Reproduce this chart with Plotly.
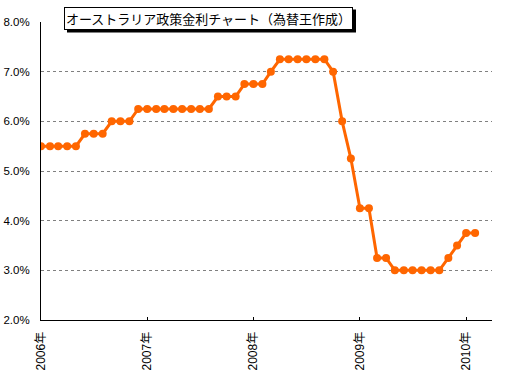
import plotly.graph_objects as go

months = [
    "2006-01-01", "2006-02-01", "2006-03-01", "2006-04-01", "2006-05-01", "2006-06-01",
    "2006-07-01", "2006-08-01", "2006-09-01", "2006-10-01", "2006-11-01", "2006-12-01",
    "2007-01-01", "2007-02-01", "2007-03-01", "2007-04-01", "2007-05-01", "2007-06-01",
    "2007-07-01", "2007-08-01", "2007-09-01", "2007-10-01", "2007-11-01", "2007-12-01",
    "2008-01-01", "2008-02-01", "2008-03-01", "2008-04-01", "2008-05-01", "2008-06-01",
    "2008-07-01", "2008-08-01", "2008-09-01", "2008-10-01", "2008-11-01", "2008-12-01",
    "2009-01-01", "2009-02-01", "2009-03-01", "2009-04-01", "2009-05-01", "2009-06-01",
    "2009-07-01", "2009-08-01", "2009-09-01", "2009-10-01", "2009-11-01", "2009-12-01",
    "2010-01-01", "2010-02-01",
]
rates = [
    5.50, 5.50, 5.50, 5.50, 5.50, 5.75,
    5.75, 5.75, 6.00, 6.00, 6.00, 6.25,
    6.25, 6.25, 6.25, 6.25, 6.25, 6.25,
    6.25, 6.25, 6.50, 6.50, 6.50, 6.75,
    6.75, 6.75, 7.00, 7.25, 7.25, 7.25,
    7.25, 7.25, 7.25, 7.00, 6.00, 5.25,
    4.25, 4.25, 3.25, 3.25, 3.00, 3.00,
    3.00, 3.00, 3.00, 3.00, 3.25, 3.50,
    3.75, 3.75,
]
year_ticks = ["2006-01-01", "2007-01-01", "2008-01-01", "2009-01-01", "2010-01-01"]
year_labels = ["2006年", "2007年", "2008年", "2009年", "2010年"]
title_text = "オーストラリア政策金利チャート（為替王作成）"

ORANGE = "#FF6600"
FONT = "Liberation Sans, Noto Sans CJK JP, sans-serif"

# plot area in pixels (for converting the title box position to paper coords)
L, R, T, B, W, H = 41, 16, 22, 60, 508, 380
PW, PH = W - L - R, H - T - B
def px(xp):
    return (xp - L) / PW
def py(yp):
    return (H - B - yp) / PH

fig = go.Figure()
fig.add_trace(go.Scatter(
    x=months, y=rates, mode="lines+markers",
    line=dict(color=ORANGE, width=3),
    marker=dict(color=ORANGE, size=8, symbol="circle"),
    showlegend=False,
))

fig.update_layout(
    width=W, height=H,
    margin=dict(l=L, r=R, t=T, b=B, autoexpand=False),
    paper_bgcolor="white", plot_bgcolor="white",
    font=dict(family=FONT, size=12, color="black"),
    xaxis=dict(
        type="date", range=["2006-01-01", "2010-03-31"],
        tickmode="array", tickvals=year_ticks, ticktext=year_labels,
        tickangle=-90, ticks="inside", ticklen=3, tickcolor="black",
        showline=True, linecolor="black", linewidth=1,
        showgrid=False, zeroline=False, automargin=False,
        tickfont=dict(family=FONT, size=12, color="black"),
        ticklabelstandoff=6,
    ),
    yaxis=dict(
        range=[2, 8], dtick=1, tick0=2, tickformat=".1f", ticksuffix="%",
        showline=True, linecolor="black", linewidth=1,
        showgrid=True, gridcolor="#808080", griddash="3px,3px", gridwidth=1,
        zeroline=False, ticks="", automargin=False,
        tickfont=dict(family=FONT, size=11.5, color="black"),
        ticklabelstandoff=8,
    ),
)

# drop shadow of the title box
fig.add_shape(
    type="rect", xref="paper", yref="paper",
    x0=px(67), x1=px(356), y0=py(32.5), y1=py(9.5),
    fillcolor="black", line=dict(width=0), layer="above",
)
fig.add_annotation(
    text=title_text, xref="paper", yref="paper",
    x=px(208.5), y=py(18),
    xanchor="center", yanchor="middle", showarrow=False,
    font=dict(family="Noto Sans CJK JP", size=13, color="black"),
    width=283, height=17, borderpad=2, borderwidth=1, bordercolor="black",
    bgcolor="white",
)

fig.write_html("out.html")
